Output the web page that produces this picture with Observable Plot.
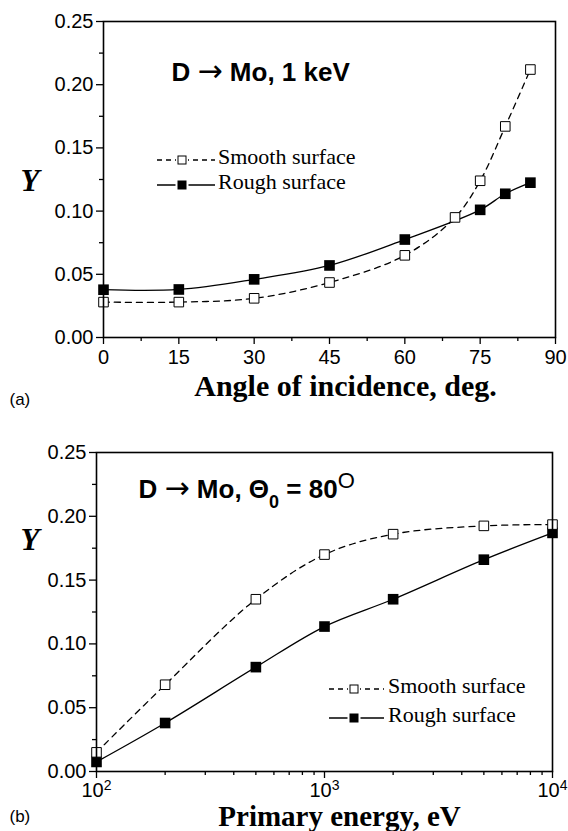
<!DOCTYPE html>
<html><head><meta charset="utf-8">
<script src="https://cdn.jsdelivr.net/npm/d3@7"></script>
<script src="https://cdn.jsdelivr.net/npm/@observablehq/plot@0.6"></script>
<style>
body{margin:0;background:#fff;}
#chart{width:568px;height:831px;position:relative;background:#fff;}
#chart svg{display:block;}
</style></head><body><div id="chart"></div>
<script>
// ---- data (panel a) ----
const anglesSmooth = [0, 15, 30, 45, 60, 70, 75, 80, 85];
const smoothA = [0.028, 0.028, 0.031, 0.0435, 0.065, 0.095, 0.124, 0.167, 0.212];
const anglesRough = [0, 15, 30, 45, 60, 75, 80, 85];
const roughA = [0.0378, 0.038, 0.046, 0.057, 0.0775, 0.101, 0.1137, 0.1225];
// ---- data (panel b) ----
const energies = [100, 200, 500, 1000, 2000, 5000, 10000];
const smoothB = [0.015, 0.068, 0.135, 0.17, 0.186, 0.1925, 0.1935];
const roughB = [0.0075, 0.038, 0.0818, 0.1136, 0.135, 0.166, 0.187];
// ---- ticks & labels ----
const yTicks = [0, 0.05, 0.10, 0.15, 0.20, 0.25];
const yMinor = [0.025, 0.075, 0.125, 0.175, 0.225];
const angleTicks = [0, 15, 30, 45, 60, 75, 90];
const angleMinor = [7.5, 22.5, 37.5, 52.5, 67.5, 82.5];
const energyTicks = [100, 1000, 10000];
const energyMinor = [200, 300, 400, 500, 600, 700, 800, 900, 2000, 3000, 4000, 5000, 6000, 7000, 8000, 9000];
const seriesNames = ["Smooth surface", "Rough surface"];
const titleA = "D \u2192 Mo, 1 keV";
const titleB = "D \u2192 Mo, \u03980 = 80O";
const xLabelA = "Angle of incidence, deg.";
const xLabelB = "Primary energy, eV";
const yLabel = "Y";

const sans = "'Liberation Sans', Arial, Helvetica, sans-serif";
const serif = "'Liberation Serif', 'Times New Roman', Times, serif";

const A_s = anglesSmooth.map((x, i) => ({x, y: smoothA[i]}));
const A_r = anglesRough.map((x, i) => ({x, y: roughA[i]}));
const B_s = energies.map((x, i) => ({x, y: smoothB[i]}));
const B_r = energies.map((x, i) => ({x, y: roughB[i]}));

function seriesMarks(S, R) {
  return [
    Plot.line(R, {x: "x", y: "y", curve: "catmull-rom", stroke: "black", strokeWidth: 1.3}),
    Plot.line(S, {x: "x", y: "y", curve: "catmull-rom", stroke: "black", strokeWidth: 1.3, strokeDasharray: "6,5"}),
    Plot.dot(R, {x: "x", y: "y", symbol: "square", r: 6, fill: "black", stroke: "none"}),
    Plot.dot(S, {x: "x", y: "y", symbol: "square", r: 5.4, fill: "white", stroke: "black", strokeWidth: 1})
  ];
}
function yAxisMarks() {
  return [
    Plot.axisY({ticks: yTicks, tickFormat: d3.format(".2f"), tickSize: 7, tickPadding: 3, label: null, strokeWidth: 1.3, fontSize: 20}),
    Plot.axisY({ticks: yMinor, tickSize: 4, text: null, label: null, strokeWidth: 1.3})
  ];
}

const p1 = Plot.plot({
  width: 568, height: 415,
  marginLeft: 103, marginRight: 13, marginTop: 21, marginBottom: 78,
  style: {fontFamily: sans, fontSize: "20px", color: "black", background: "white", overflow: "visible"},
  x: {domain: [0, 90]},
  y: {domain: [0, 0.25]},
  marks: [
    ...yAxisMarks(),
    Plot.axisX({ticks: angleTicks, tickSize: 7, tickPadding: 5, label: null, strokeWidth: 1.3, fontSize: 20}),
    Plot.axisX({ticks: angleMinor, tickSize: 4, text: null, label: null, strokeWidth: 1.3}),
    ...seriesMarks(A_s, A_r),
    Plot.frame({stroke: "black", strokeWidth: 1.6}),
    Plot.text([titleA], {text: d => d, frameAnchor: "top-left", dx: 68, dy: 59, textAnchor: "start", lineAnchor: "bottom", fontSize: 26, fontWeight: "bold"}),
    Plot.text([yLabel], {text: d => d, frameAnchor: "left", dx: -83, dy: 2, fontFamily: serif, fontStyle: "italic", fontWeight: "bold", fontSize: 31}),
    Plot.text([xLabelA], {text: d => d, frameAnchor: "bottom", dx: 16, dy: 58, lineAnchor: "bottom", fontFamily: serif, fontWeight: "bold", fontSize: 30}),
    Plot.text(["(a)"], {text: d => d, frameAnchor: "bottom-left", dx: -94, dy: 67, textAnchor: "start", lineAnchor: "bottom", fontSize: 17})
  ]
});

const p2 = Plot.plot({
  width: 568, height: 416,
  marginLeft: 96, marginRight: 16, marginTop: 37, marginBottom: 60,
  style: {fontFamily: sans, fontSize: "20px", color: "black", background: "white", overflow: "visible"},
  x: {type: "log", domain: [100, 10000]},
  y: {domain: [0, 0.25]},
  marks: [
    ...yAxisMarks(),
    Plot.axisX({ticks: energyTicks, tickFormat: d => "10^" + Math.round(Math.log10(d)), tickSize: 7, tickPadding: 4, label: null, strokeWidth: 1.3, fontSize: 20}),
    Plot.axisX({ticks: energyMinor, tickSize: 4, text: null, label: null, strokeWidth: 1.3}),
    ...seriesMarks(B_s, B_r),
    Plot.frame({stroke: "black", strokeWidth: 1.6}),
    Plot.text([titleB], {text: d => d, frameAnchor: "top-left", dx: 42, dy: 45, textAnchor: "start", lineAnchor: "bottom", fontSize: 26, fontWeight: "bold"}),
    Plot.text([yLabel], {text: d => d, frameAnchor: "left", dx: -76, dy: -72, fontFamily: serif, fontStyle: "italic", fontWeight: "bold", fontSize: 31}),
    Plot.text([xLabelB], {text: d => d, frameAnchor: "bottom", dx: 15, dy: 54, lineAnchor: "bottom", fontFamily: serif, fontWeight: "bold", fontSize: 29}),
    Plot.text(["(b)"], {text: d => d, frameAnchor: "bottom-left", dx: -87, dy: 50, textAnchor: "start", lineAnchor: "bottom", fontSize: 17})
  ]
});

// superscript tick labels 10^n
d3.select(p2).selectAll('g[aria-label="x-axis tick label"] text').each(function() {
  const s = this.textContent;
  if (s.indexOf("^") < 0) return;
  const [base, exp] = s.split("^");
  const t = d3.select(this);
  t.text(null);
  t.append("tspan").text(base);
  t.append("tspan").attr("dy", "-0.45em").attr("font-size", "14px").text(exp);
});

// thin long arrow like the reference
function arrowSpan(t, rest) {
  t.append("tspan").text("D ");
  t.append("tspan").attr("font-family", "'DejaVu Sans', sans-serif").attr("font-weight", "normal").attr("font-size", "30px").text("\u2192");
  t.append("tspan").text(rest);
}
d3.select(p1).selectAll("text").filter(function() { return this.textContent === titleA; }).each(function() {
  const t = d3.select(this);
  t.text(null);
  arrowSpan(t, " Mo, 1 keV");
});
// rich title for panel b (subscript 0, superscript O)
d3.select(p2).selectAll("text").filter(function() { return this.textContent === titleB; }).each(function() {
  const t = d3.select(this);
  t.text(null);
  arrowSpan(t, " Mo, \u0398");
  t.append("tspan").attr("dy", 10).attr("font-size", "18px").text("0");
  t.append("tspan").attr("dy", -10).text(" = 80");
  t.append("tspan").attr("dy", -10).attr("font-size", "22px").attr("font-weight", "normal").text("O");
});

// in-frame legends
function addLegend(svg, spec) {
  const g = d3.select(svg).append("g").attr("class", "legend").attr("text-anchor", "start");
  seriesNames.forEach((name, i) => {
    const yb = spec.baselines[i];
    const yc = yb - 4;
    g.append("line").attr("x1", spec.x0).attr("x2", spec.x1).attr("y1", yc).attr("y2", yc)
      .attr("stroke", "black").attr("stroke-width", 1.3)
      .attr("stroke-dasharray", i === 0 ? "5,4" : null);
    const s = i === 0 ? 8 : 9;
    g.append("rect").attr("x", spec.xs - s / 2 - 2).attr("y", yc - s / 2).attr("width", s + 4).attr("height", s)
      .attr("fill", "white");
    g.append("rect").attr("x", spec.xs - s / 2).attr("y", yc - s / 2).attr("width", s).attr("height", s)
      .attr("fill", i === 0 ? "white" : "black").attr("stroke", "black").attr("stroke-width", i === 0 ? 1 : 0);
    g.append("text").attr("x", spec.xt).attr("y", yb).attr("text-anchor", "start")
      .attr("font-family", serif).attr("font-size", 22)
      .attr("fill", "black").text(name);
  });
}
addLegend(p1, {x0: 157, x1: 215, xs: 182, xt: 218, baselines: [164, 189]});
addLegend(p2, {x0: 329, x1: 384, xs: 354, xt: 388, baselines: [278, 307]});

const chart = document.getElementById("chart");
chart.append(p1, p2);
</script>
</body></html>
